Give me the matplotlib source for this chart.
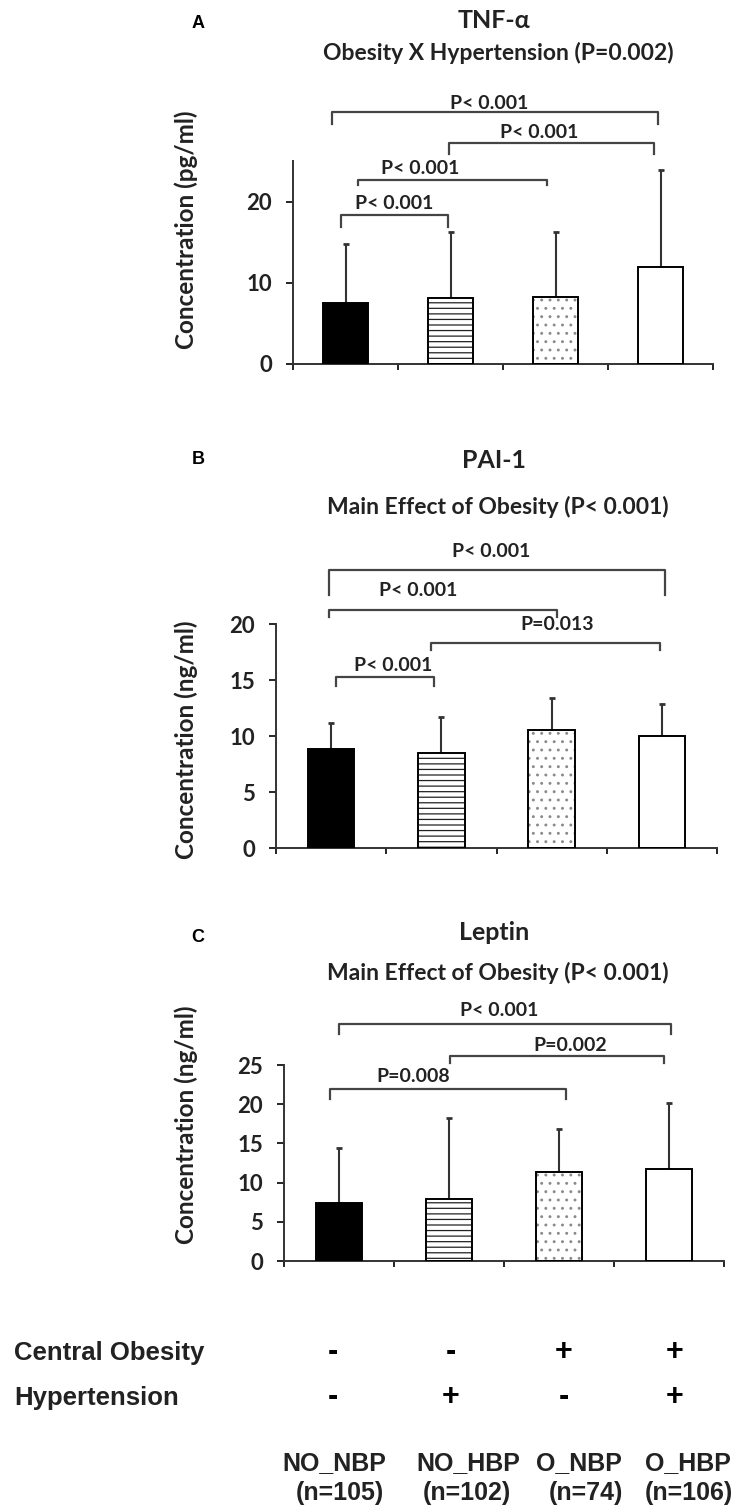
import matplotlib
matplotlib.use("Agg")
import matplotlib.pyplot as plt
import numpy as np

# data
groups = ["NO_NBP", "NO_HBP", "O_NBP", "O_HBP"]
group_n = ["(n=105)", "(n=102)", "(n=74)", "(n=106)"]
obesity_sign = ["-", "-", "+", "+"]
hbp_sign = ["-", "+", "-", "+"]

tnf_mean = [7.5, 8.1, 8.2, 12.0]
tnf_sd = [7.3, 8.2, 8.1, 11.9]
pai_mean = [8.8, 8.5, 10.5, 10.0]
pai_sd = [2.4, 3.2, 2.9, 2.9]
lep_mean = [7.4, 7.9, 11.3, 11.7]
lep_sd = [7.0, 10.4, 5.6, 8.5]

# brackets: (left leg x, right leg x, bar height, leg bottom, text x, text y, label)
tnf_brackets = [(-0.04, 0.98, 18.4, 16.9, 0.46, 19.75, "P< 0.001"),
                (0.12, 1.92, 22.6, 22.0, 0.71, 24.1, "P< 0.001"),
                (0.985, 2.94, 27.2, 25.9, 1.84, 28.5, "P< 0.001"),
                (-0.13, 2.98, 31.0, 29.5, 1.37, 32.1, "P< 0.001")]
pai_brackets = [(0.04, 0.93, 15.3, 14.5, 0.56, 16.3, "P< 0.001"),
                (0.91, 2.98, 18.3, 17.7, 2.05, 20.0, "P=0.013"),
                (-0.02, 2.05, 21.25, 20.6, 0.79, 23.0, "P< 0.001"),
                (-0.02, 3.03, 24.8, 22.6, 1.45, 26.5, "P< 0.001")]
lep_brackets = [(-0.08, 2.06, 22.0, 20.6, 0.67, 23.5, "P=0.008"),
                (1.01, 2.95, 26.2, 25.2, 2.1, 27.5, "P=0.002"),
                (0.0, 3.02, 30.2, 29.0, 1.46, 31.9, "P< 0.001")]

W, H = 737, 1506
plt.rcParams["hatch.linewidth"] = 0.9
fig = plt.figure(figsize=(W / 100, H / 100), dpi=100)

def fx(px):
    return px / W

def fy(py):
    return 1 - py / H

calib = "Lato"
arial = "Liberation Sans"
ink = "#222222"

hatches = [None, "---", "..", None]
faces = ["black", "white", "white", "white"]
hatch_cols = ["black", "#222222", "#8a8a8a", "black"]


def panel(left, right, top, zero, ymax, yticks, means, sds, brackets,
          letter, title, subtitle, ylabel, title_y, sub_y, letter_y, ylab_y):
    ax = fig.add_axes([fx(left), fy(zero), (right - left) / W, (zero - top) / H])
    x = np.arange(len(means))
    ax.bar(x, means, width=0.42, color=faces, linewidth=0, zorder=2)
    for i in range(len(means)):
        if hatches[i]:
            ax.bar(x[i], means[i], width=0.42, color="white",
                   edgecolor=hatch_cols[i], hatch=hatches[i], linewidth=0, zorder=2)
    ax.bar(x, means, width=0.42, color="none", edgecolor="black",
           linewidth=1.4, zorder=3)
    ax.errorbar(x, means, yerr=[np.zeros(len(sds)), sds], fmt="none",
                ecolor="#333333", elinewidth=1.5, capsize=2.5, capthick=2,
                zorder=1)
    ax.set_xlim(-0.5, 3.5)
    ax.set_ylim(0, ymax)
    ax.set_xticks(np.arange(-0.5, 4.0, 1.0))
    ax.set_xticklabels([])
    ax.set_yticks(yticks)
    ax.tick_params(axis="y", length=5, width=1.2, pad=10, labelsize=16)
    ax.tick_params(axis="x", length=4, width=1.2)
    for lab in ax.get_yticklabels():
        lab.set_fontfamily(calib)
        lab.set_fontweight("bold")
        lab.set_color(ink)
    for s in ["top", "right"]:
        ax.spines[s].set_visible(False)
    for s in ["left", "bottom"]:
        ax.spines[s].set_linewidth(1.4)
        ax.spines[s].set_color("#333333")
    for (xl, xr, h, leg, tx, ty, lab) in brackets:
        ax.plot([xl, xl, xr, xr], [leg, h, h, leg], color="#444444",
                lw=1.6, clip_on=False, zorder=4)
        ax.text(tx, ty, lab, ha="center", va="center", fontsize=14,
                fontfamily=calib, fontweight="bold", color=ink,
                clip_on=False)
    fig.text(fx(198), fy(letter_y), letter, ha="center", va="center",
             fontsize=13, fontfamily=arial, fontweight="bold")
    fig.text(fx(494), fy(title_y), title, ha="center", va="center",
             fontsize=18, fontfamily=calib, fontweight="bold", color=ink)
    fig.text(fx(498), fy(sub_y), subtitle, ha="center", va="center",
             fontsize=16.5, fontfamily=calib, fontweight="bold", color=ink)
    fig.text(fx(186), fy(ylab_y), ylabel, ha="center", va="center",
             rotation=90, fontsize=17.5, fontfamily=calib, fontweight="bold",
             color=ink)
    return ax


panel(293, 713, 161, 364, 25, [0, 10, 20], tnf_mean, tnf_sd, tnf_brackets,
      "A", "TNF-α", "Obesity X Hypertension (P=0.002)",
      "Concentration (pg/ml)", 20, 53, 23, 230)
panel(276, 717, 624, 848, 20, [0, 5, 10, 15, 20], pai_mean, pai_sd, pai_brackets,
      "B", "PAI-1", "Main Effect of Obesity (P< 0.001)",
      "Concentration (ng/ml)", 460, 507, 460, 740)
panel(284, 724, 1065, 1261, 25, [0, 5, 10, 15, 20, 25], lep_mean, lep_sd, lep_brackets,
      "C", "Leptin", "Main Effect of Obesity (P< 0.001)",
      "Concentration (ng/ml)", 933, 973, 937, 1125)

# bottom table of group definitions
col_x = [333, 451, 564, 675]
fig.text(fx(14), fy(1353), "Central Obesity", ha="left", va="center",
         fontsize=18.5, fontfamily=arial, fontweight="bold", color=ink)
fig.text(fx(14), fy(1398), "Hypertension", ha="left", va="center",
         fontsize=18.5, fontfamily=arial, fontweight="bold", color=ink)
for i in range(4):
    fig.text(fx(col_x[i]), fy(1352), obesity_sign[i], ha="center", va="center",
             fontsize=22, fontfamily=arial, fontweight="bold")
    fig.text(fx(col_x[i]), fy(1397), hbp_sign[i], ha="center", va="center",
             fontsize=22, fontfamily=arial, fontweight="bold")

name_x = [334, 468, 579, 688]
n_x = [340, 467, 586, 689]
for i in range(4):
    fig.text(fx(name_x[i]), fy(1463), groups[i], ha="center", va="center",
             fontsize=18, fontfamily=arial, fontweight="bold", color=ink)
    fig.text(fx(n_x[i]), fy(1493), group_n[i], ha="center", va="center",
             fontsize=18, fontfamily=arial, fontweight="bold", color=ink)

fig.savefig("out.png", dpi=100)
